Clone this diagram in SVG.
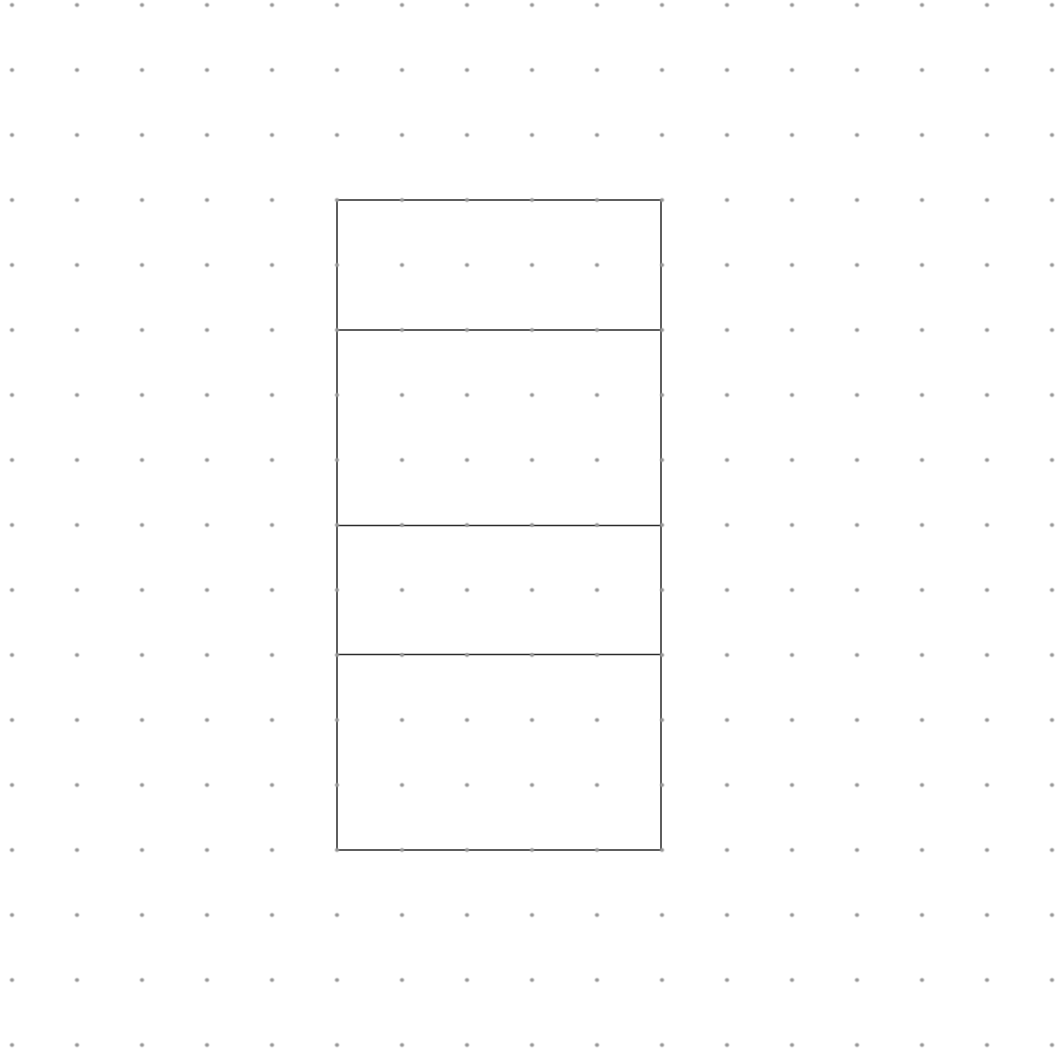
<svg xmlns="http://www.w3.org/2000/svg" width="1059" height="1057" viewBox="0 0 1059 1057">
<style>
.cell{fill:none;stroke:#2a2a2a;stroke-width:1.5}
</style>
<defs>
<pattern id="dots" patternUnits="userSpaceOnUse" x="-20.5" y="-27.5" width="65" height="65">
<circle cx="32.5" cy="32.5" r="2.1" fill="#999"/>
</pattern>
</defs>
<rect width="1059" height="1057" fill="#fff"/>
<g id="stack">
<g id="cell1"><path class="cell" d="M337 330V200H661V330"/></g>
<g id="cell2"><path class="cell" d="M337 330H661M337 330V525.5M661 330V525.5"/></g>
<g id="cell3"><path class="cell" d="M337 525.5H661M337 525.5V654.5M661 525.5V654.5"/></g>
<g id="cell4"><path class="cell" d="M337 654.5H661M337 654.5V850H661V654.5"/></g>
</g>
<rect width="1059" height="1057" fill="url(#dots)"/>
<g id="connectors"/>
</svg>
